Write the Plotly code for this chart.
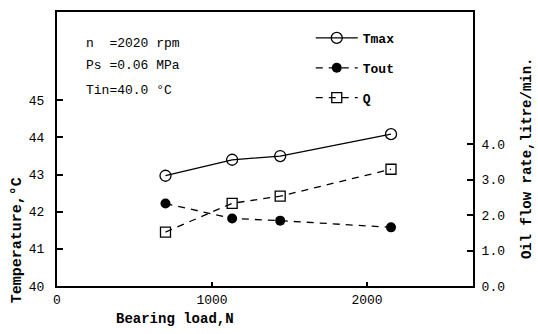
import plotly.graph_objects as go

# Data
load = [700, 1130, 1440, 2155]            # Bearing load, N
tmax = [42.97, 43.40, 43.50, 44.09]       # Temperature, °C
tout = [42.22, 41.82, 41.76, 41.58]       # Temperature, °C
q = [1.52, 2.33, 2.53, 3.29]              # Oil flow rate, litre/min.

x_ticks = [0, 1000, 2000]
t_ticks = [40, 41, 42, 43, 44, 45]
q_ticks = [0, 1, 2, 3, 4]

FONT = "Liberation Mono"
BLACK = "black"

fig = go.Figure()
fig.add_trace(go.Scatter(
    x=load, y=tmax, name="Tmax", mode="lines+markers", legendgroup="a",
    line=dict(color=BLACK, width=1.3),
    marker=dict(symbol="circle-open", size=11, color=BLACK, line=dict(width=1.3)),
))
fig.add_trace(go.Scatter(
    x=load, y=tout, name="Tout", mode="lines+markers", legendgroup="b",
    line=dict(color=BLACK, width=1.3, dash="7px,6px"),
    marker=dict(symbol="circle", size=10, color=BLACK),
))
fig.add_trace(go.Scatter(
    x=load, y=q, name="Q", mode="lines+markers", legendgroup="c", yaxis="y2",
    line=dict(color=BLACK, width=1.3, dash="7px,6px"),
    marker=dict(symbol="square-open", size=10, color=BLACK, line=dict(width=1.3)),
))

axis_common = dict(
    showgrid=False, zeroline=False, showline=True, linecolor=BLACK, linewidth=2,
    ticks="inside", tickcolor=BLACK, tickwidth=1.5,
    tickfont=dict(family=FONT, size=13, color=BLACK),
)

fig.update_layout(
    width=538, height=334,
    margin=dict(l=57, r=65, t=10, b=48),
    paper_bgcolor="white", plot_bgcolor="white",
    font=dict(family=FONT, color=BLACK),
    xaxis=dict(range=[0, 2684], tickvals=x_ticks, ticklen=4, mirror=True, **axis_common),
    yaxis=dict(range=[40, 47.38], tickvals=t_ticks, ticklen=6, mirror=True,
               ticklabelstandoff=8, **axis_common),
    yaxis2=dict(range=[0, 7.72], tickvals=q_ticks, tickformat=".1f", ticklen=6,
                ticklabelstandoff=4, overlaying="y", side="right", **axis_common),
    legend=dict(x=0.61, y=0.96, xanchor="left", yanchor="top", itemwidth=42,
                bgcolor="rgba(0,0,0,0)", tracegroupgap=10,
                font=dict(family=FONT, size=13, color=BLACK, weight="bold")),
    showlegend=True,
)

ann = dict(xref="paper", yref="paper", showarrow=False, xanchor="left", yanchor="middle",
           font=dict(family=FONT, size=13, color=BLACK))
fig.add_annotation(x=0.065, y=0.884, text="n  =2020 rpm", **ann)
fig.add_annotation(x=0.065, y=0.804, text="Ps =0.06 MPa", **ann)
fig.add_annotation(x=0.065, y=0.714, text="Tin=40.0 °C", **ann)

fig.add_annotation(xref="paper", yref="paper", x=0.284, y=-0.12, showarrow=False,
                   xanchor="center", yanchor="middle",
                   text="Bearing load,N", font=dict(family=FONT, size=14, color=BLACK, weight="bold"))
fig.add_annotation(xref="paper", yref="paper", x=-0.096, y=0.167, showarrow=False, textangle=-90,
                   xanchor="center", yanchor="middle",
                   text="Temperature,°C", font=dict(family=FONT, size=15, color=BLACK, weight="bold"))
fig.add_annotation(xref="paper", yref="paper", x=1.13, y=0.467, showarrow=False, textangle=-90,
                   xanchor="center", yanchor="middle",
                   text="Oil flow rate,litre/min.", font=dict(family=FONT, size=14, color=BLACK, weight="bold"))

fig.write_html("out.html")
